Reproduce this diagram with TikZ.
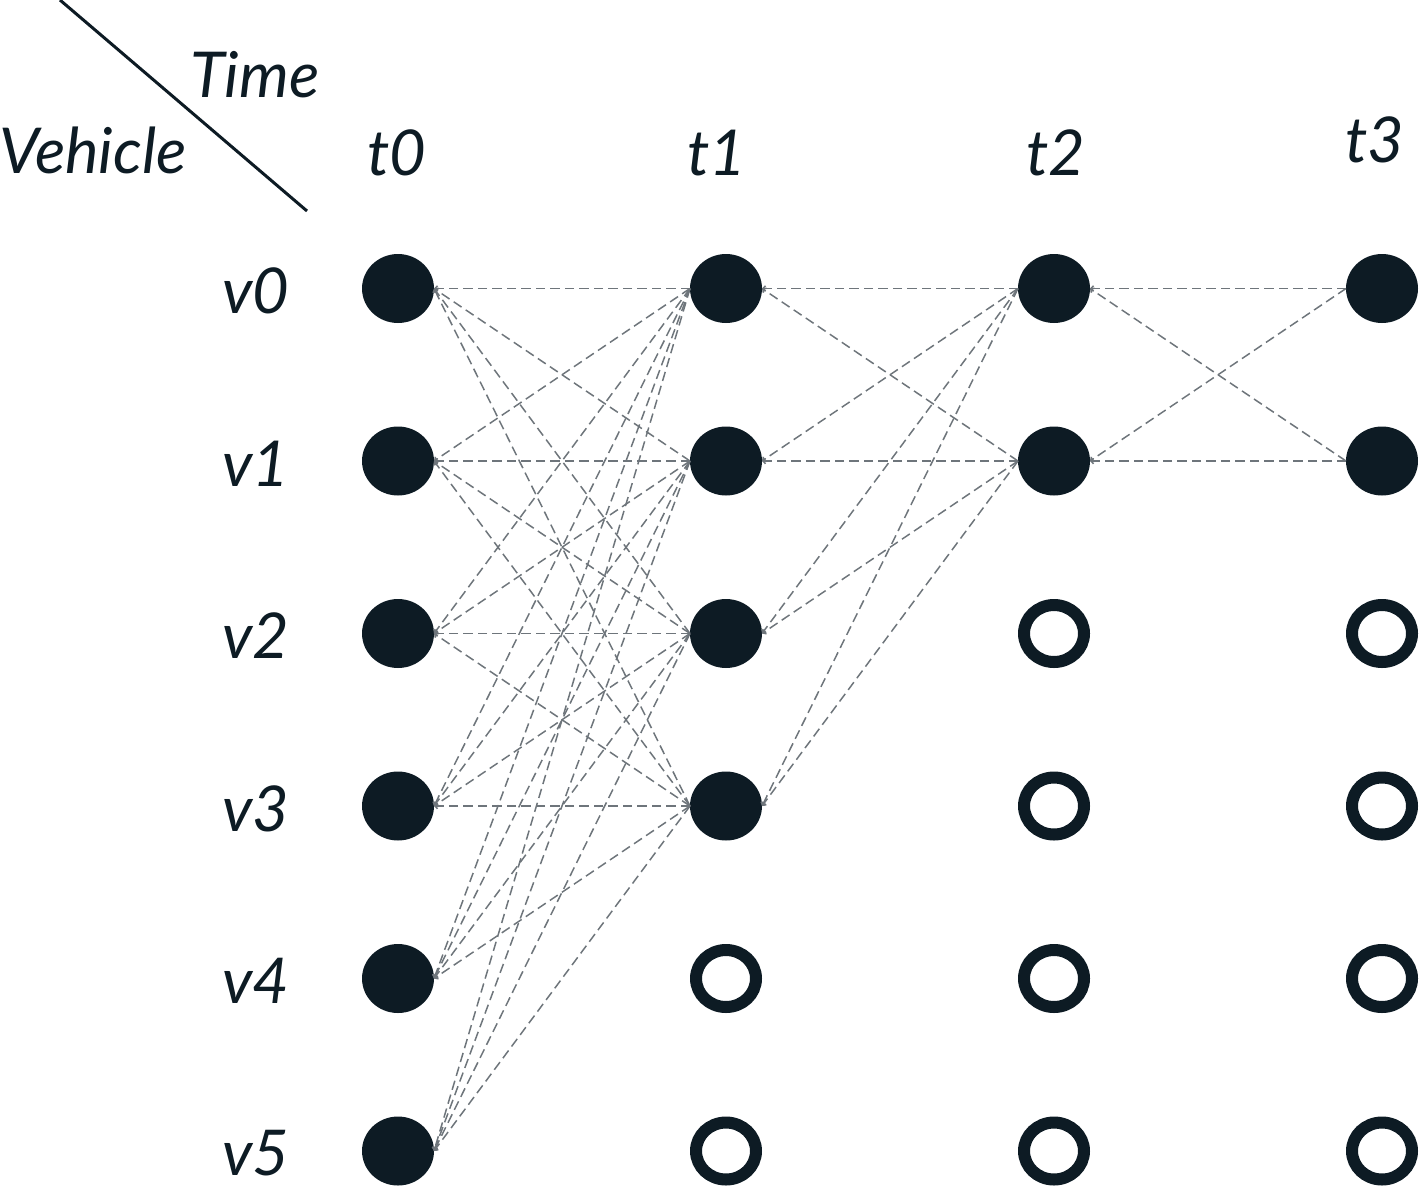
\documentclass[tikz,border=0pt]{standalone}
\usepackage{fontspec}
\setmainfont{Lato}
\usetikzlibrary{arrows.meta, shapes.geometric}

\definecolor{nodedark}{HTML}{0D1B24}
\definecolor{linkgray}{HTML}{6E757B}

\tikzset{
    lbl/.style={font=\fontsize{36}{42}\selectfont\itshape, text=nodedark, inner sep=0pt},
    busy/.style={ellipse, fill=nodedark, minimum width=1.44cm, minimum height=1.38cm, inner sep=0pt, outer sep=0pt},
    idle/.style={ellipse, draw=nodedark, line width=0.24cm, minimum width=1.2cm, minimum height=1.14cm, inner sep=0pt},
    link/.style={linkgray, line width=0.85pt, dash pattern=on 0.19cm off 0.1cm, -{Straight Barb[length=0.5mm,width=1.1mm]}}
}

\begin{document}
\begin{tikzpicture}[x=0.02cm, y=-0.02cm]
    \useasboundingbox (0,0) rectangle (1420,1188);

    % Header corner
    \draw[nodedark, line width=0.06cm] (60,0) -- (307,211);
    \node[lbl] (timehead) at (255,75) {Time};
    \node[lbl] (vehhead) at (93,150) {Vehicle};

    % Time labels
    \node[lbl] (lt0) at (397,153) {t0};
    \node[lbl] (lt1) at (717,153) {t1};
    \node[lbl] (lt2) at (1056,153) {t2};
    \node[lbl] (lt3) at (1375,140) {t3};

    % Vehicle labels
    \foreach \row in {0,...,5}
        \node[lbl] (lv\row) at (256,291+172.5*\row) {v\row};

    % Slots: filled = available, ring = empty
    \foreach \col/\x/\n in {0/398/5, 1/726/3, 2/1054/1, 3/1382/1} {
        \foreach \row in {0,...,5} {
            \ifnum\row>\n \def\kind{idle}\else\def\kind{busy}\fi
            \node[\kind] (t\col v\row) at (\x,288.5+172.5*\row) {};
        }
    }

    % Links t1 -> t0
    \foreach \a in {0,...,5}
        \foreach \b in {0,...,3}
            \draw[link] (t1v\b.west) -- (t0v\a.east);

    % Links t2 -> t1
    \foreach \a in {0,...,3}
        \foreach \b in {0,1}
            \draw[link] (t2v\b.west) -- (t1v\a.east);

    % Links t3 -> t2
    \foreach \a in {0,1}
        \foreach \b in {0,1}
            \draw[link] (t3v\b.west) -- (t2v\a.east);
\end{tikzpicture}
\end{document}
